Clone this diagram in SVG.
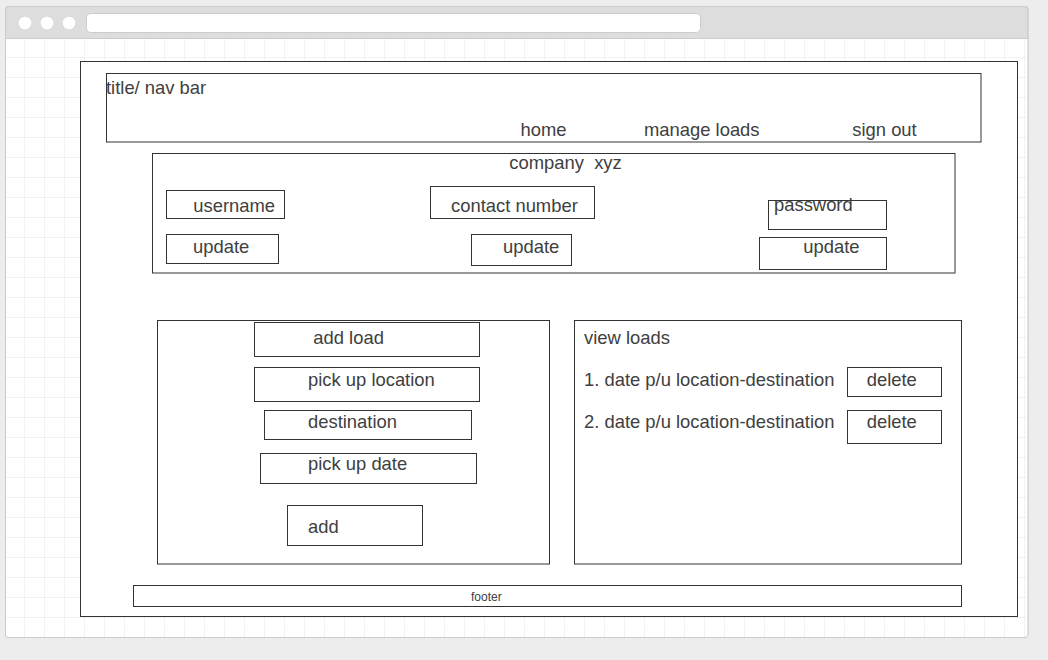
<svg xmlns="http://www.w3.org/2000/svg" width="1048" height="660" viewBox="0 0 1048 660">
<style>
.box{fill:#fff;stroke:#333;stroke-width:1}
.t{font-family:"Liberation Sans",Arial,sans-serif;font-size:18.4px;fill:#404040;white-space:pre}
.s{font-family:"Liberation Sans",Arial,sans-serif;font-size:12px;fill:#404040}
</style>
<defs>
<pattern id="grid" x="5" y="38" width="20" height="20" patternUnits="userSpaceOnUse">
<path d="M20 0V20M0 20H20" fill="none" stroke="#e4e4e4" stroke-width="1"/>
</pattern>
</defs>
<rect width="1048" height="660" fill="#ededed"/>
<g id="browser">
<rect x="5.5" y="6.5" width="1022.5" height="631" rx="3" fill="#dddddd" stroke="#cccccc"/>
<rect x="6" y="38" width="1022" height="599" fill="#fff"/>
<rect x="6" y="38" width="1022" height="599" fill="url(#grid)"/>
<line x1="6" y1="38.5" x2="1028" y2="38.5" stroke="#cccccc"/>
<rect x="5.5" y="6.5" width="1022.5" height="631" rx="3" fill="none" stroke="#cccccc"/>
<circle cx="25" cy="23" r="6.3" fill="#fff"/>
<circle cx="47" cy="23" r="6.3" fill="#fff"/>
<circle cx="69" cy="23" r="6.3" fill="#fff"/>
<rect x="86.5" y="13.5" width="614" height="19" rx="4" fill="#fff" stroke="#cccccc"/>
</g>
<g id="page"><rect class="box" x="80.5" y="61.5" width="937" height="555"/></g>
<g id="navbar">
<rect class="box" x="106.5" y="73.5" width="874.5" height="68.5"/>
<text class="t" x="106" y="94">title/ nav bar</text>
<text class="t" x="520.5" y="136">home</text>
<text class="t" x="644" y="136">manage loads</text>
<text class="t" x="852.3" y="136">sign out</text>
</g>
<g id="company">
<rect class="box" x="152.5" y="153.5" width="802.5" height="119.5"/>
<text class="t" x="509.3" y="169">company  xyz</text>
</g>
<g id="username">
<rect class="box" x="166.5" y="190.5" width="118" height="28"/>
<text class="t" x="193.3" y="211.5">username</text>
</g>
<g id="contact">
<rect class="box" x="430.5" y="186.5" width="164" height="32"/>
<text class="t" x="451" y="211.5">contact number</text>
</g>
<g id="password">
<rect class="box" x="768.5" y="200.5" width="118" height="29"/>
<text class="t" x="774" y="211">password</text>
</g>
<g id="update1">
<rect class="box" x="166.5" y="234.5" width="112" height="29"/>
<text class="t" x="193" y="253">update</text>
</g>
<g id="update2">
<rect class="box" x="471.5" y="234.5" width="100" height="31"/>
<text class="t" x="503" y="253">update</text>
</g>
<g id="update3">
<rect class="box" x="759.5" y="237.5" width="127" height="32"/>
<text class="t" x="803.3" y="253">update</text>
</g>
<g id="addPanel">
<rect class="box" x="157.5" y="320.5" width="392" height="243.5"/>
</g>
<g id="addLoad">
<rect class="box" x="254.5" y="322.5" width="225" height="34"/>
<text class="t" x="313.3" y="344">add load</text>
</g>
<g id="pickupLocation">
<rect class="box" x="254.5" y="367.5" width="225" height="34"/>
<text class="t" x="308" y="386">pick up location</text>
</g>
<g id="destination">
<rect class="box" x="264.5" y="410.5" width="207" height="29"/>
<text class="t" x="308" y="428">destination</text>
</g>
<g id="pickupDate">
<rect class="box" x="260.5" y="453.5" width="216" height="30"/>
<text class="t" x="308" y="470">pick up date</text>
</g>
<g id="add">
<rect class="box" x="287.5" y="505.5" width="135" height="40"/>
<text class="t" x="308" y="533">add</text>
</g>
<g id="viewPanel">
<rect class="box" x="574.5" y="320.5" width="387" height="243.5"/>
<text class="t" x="584" y="344">view loads</text>
<text class="t" x="584" y="386">1. date p/u location-destination</text>
<text class="t" x="584" y="428">2. date p/u location-destination</text>
</g>
<g id="delete1">
<rect class="box" x="847.5" y="367.5" width="94" height="29"/>
<text class="t" x="866.7" y="386">delete</text>
</g>
<g id="delete2">
<rect class="box" x="847.5" y="410.5" width="94" height="33"/>
<text class="t" x="866.7" y="428">delete</text>
</g>
<g id="footer">
<rect class="box" x="133.5" y="585.5" width="828" height="21"/>
<text class="s" x="471" y="601">footer</text>
</g>
<g id="connectors"/>
</svg>
